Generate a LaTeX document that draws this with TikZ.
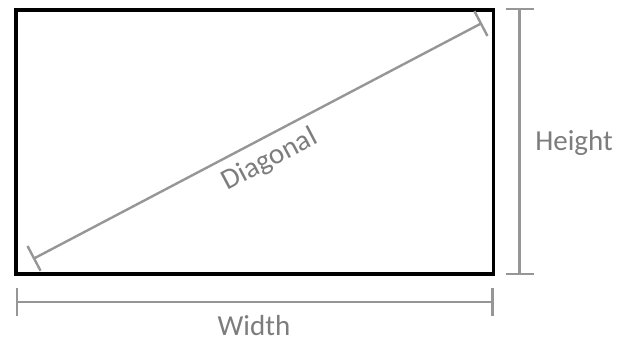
\documentclass[tikz,border=0pt]{standalone}
\usepackage{fontspec}
\setmainfont{Carlito}
\usetikzlibrary{arrows.meta}
\definecolor{dimgray}{RGB}{150,150,150}
\definecolor{lblgray}{RGB}{125,125,125}
\begin{document}
\begin{tikzpicture}[x=1pt,y=-1pt,
  dim/.style={draw=dimgray, line width=2.4pt, {Bar[width=28pt,line width=2.4pt]}-{Bar[width=28pt,line width=2.4pt]}},
  lbl/.style={text=lblgray, font=\fontsize{29}{34}\selectfont, inner sep=0pt}]
\useasboundingbox (0,0) rectangle (632,342);
\node[draw=black, line width=3.5pt, minimum width=477.5pt, minimum height=264pt, inner sep=0pt] (screen) at (254.75,142) {};
\coordinate (d1) at (33,259);
\coordinate (d2) at (482,23);
\coordinate (h1) at (519.5,8);
\coordinate (h2) at (519.5,275);
\coordinate (w1) at (15.5,302);
\coordinate (w2) at (493.5,302);
\draw[dim] (d1) -- (d2);
\draw[dim] (h1) -- (h2);
\draw[dim] (w1) -- (w2);
\node[lbl, rotate=27.7] (diaglabel) at (270,160) {Diagonal};
\node[lbl, anchor=base] (heightlabel) at (574,150) {Height};
\node[lbl, anchor=base] (widthlabel) at (254,335.5) {Width};
\end{tikzpicture}
\end{document}
